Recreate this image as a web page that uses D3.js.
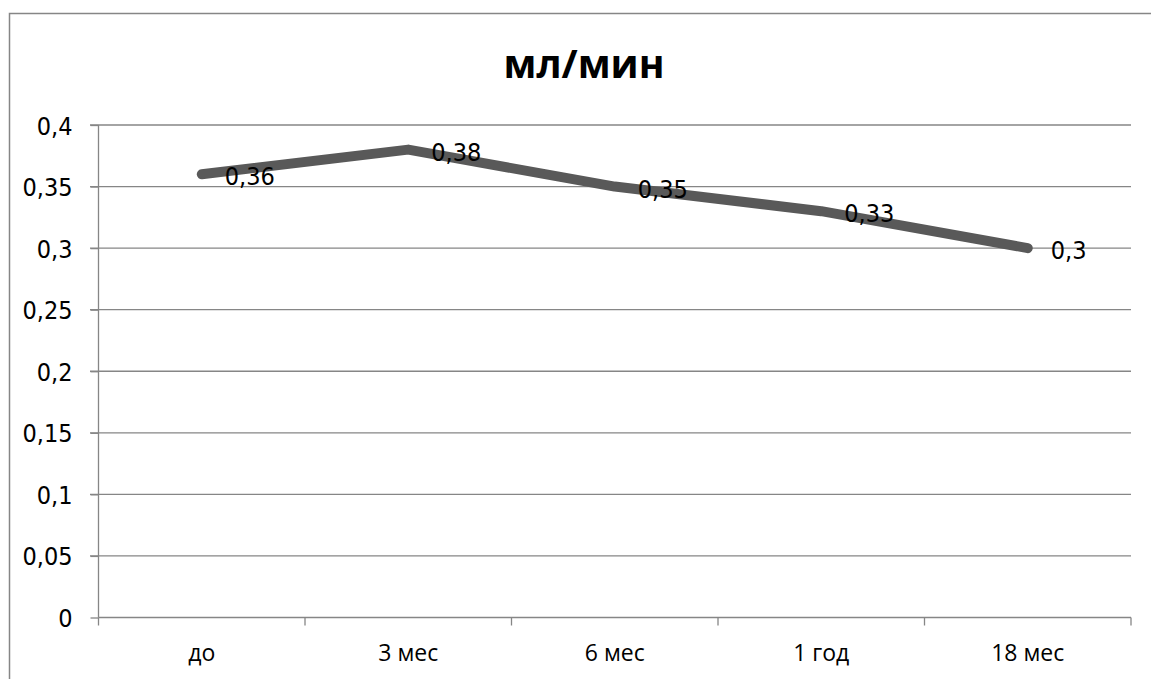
<!DOCTYPE html>
<html><head><meta charset="utf-8">
<script src="https://cdn.jsdelivr.net/npm/d3@7"></script>
<style>body{margin:0;background:#fff}svg{display:block}</style>
</head><body>
<script>
const categories = ["до", "3 мес", "6 мес", "1 год", "18 мес"];
const values = [0.36, 0.38, 0.35, 0.33, 0.3];
const valueLabels = ["0,36", "0,38", "0,35", "0,33", "0,3"];
const yTicks = [0, 0.05, 0.1, 0.15, 0.2, 0.25, 0.3, 0.35, 0.4];
const yTickLabels = ["0", "0,05", "0,1", "0,15", "0,2", "0,25", "0,3", "0,35", "0,4"];
const title = "мл/мин";

const W = 1151, H = 679;
const svg = d3.select("body").append("svg").attr("width", W).attr("height", H);
const gray = "#868686";
const numFont = "'Liberation Sans Narrow','DejaVu Sans Condensed',sans-serif";
const catFont = "'Open Sans',sans-serif";

svg.append("rect").attr("x", 9.5).attr("y", 13.5).attr("width", 1300).attr("height", 800)
  .attr("fill", "none").attr("stroke", gray).attr("stroke-width", 1.5);

const x = d3.scaleBand().domain(categories).range([98.5, 1131]).padding(0);
const y = d3.scaleLinear().domain([0, 0.4]).range([617.5, 125]);

// gridlines
svg.append("g").selectAll("line").data(yTicks.filter(d => d > 0)).join("line")
  .attr("x1", 90).attr("x2", 1131).attr("y1", d => y(d)).attr("y2", d => y(d))
  .attr("stroke", gray).attr("stroke-width", 1.3);

// y axis
const yAxis = d3.axisLeft(y).tickValues(yTicks).tickSize(8)
  .tickFormat((d, i) => yTickLabels[i]);
const gy = svg.append("g").attr("transform", "translate(98.5,0)").call(yAxis);
gy.select(".domain").attr("stroke", gray).attr("stroke-width", 1.3).attr("d", `M0,${y(0)}V${y(0.4)}`);
gy.selectAll(".tick line").attr("stroke", gray).attr("stroke-width", 1.3);
gy.selectAll(".tick text").attr("x", -26).attr("dy", "0.36em")
  .style("font-family", numFont).style("font-size", "25px").attr("fill", "#000");

// x axis
const xAxis = d3.axisBottom(x).tickSize(0).tickPadding(0);
const gx = svg.append("g").attr("transform", `translate(0,${y(0)})`).call(xAxis);
gx.select(".domain").attr("stroke", gray).attr("stroke-width", 1.3).attr("d", `M${x.range()[0]},0H${x.range()[1]}`);
gx.selectAll(".tick text").attr("y", 27)
  .style("font-family", catFont).style("font-size", "23px").attr("fill", "#000");
// boundary tick marks
const bounds = categories.map(c => x(c)).concat([x.range()[1]]);
gx.append("g").selectAll("line").data(bounds).join("line")
  .attr("x1", d => d).attr("x2", d => d).attr("y1", 0).attr("y2", 8)
  .attr("stroke", gray).attr("stroke-width", 1.3);

// line
const cx = d => x(d) + x.bandwidth() / 2;
const line = d3.line().x((d, i) => cx(categories[i])).y(d => y(d));
svg.append("path").datum(values).attr("d", line)
  .attr("fill", "none").attr("stroke", "#595959").attr("stroke-width", 10)
  .attr("stroke-linecap", "round").attr("stroke-linejoin", "round");

// value labels
svg.append("g").selectAll("text").data(values).join("text")
  .attr("x", (d, i) => cx(categories[i]) + 23).attr("y", d => y(d) + 2)
  .attr("dy", "0.36em").text((d, i) => valueLabels[i])
  .style("font-family", numFont).style("font-size", "25px").attr("fill", "#000");

// title
svg.append("text").attr("x", 584).attr("y", 78).attr("text-anchor", "middle")
  .style("font-family", catFont).style("font-weight", "bold").style("font-size", "39px")
  .attr("fill", "#000").text(title);
</script>
</body></html>
